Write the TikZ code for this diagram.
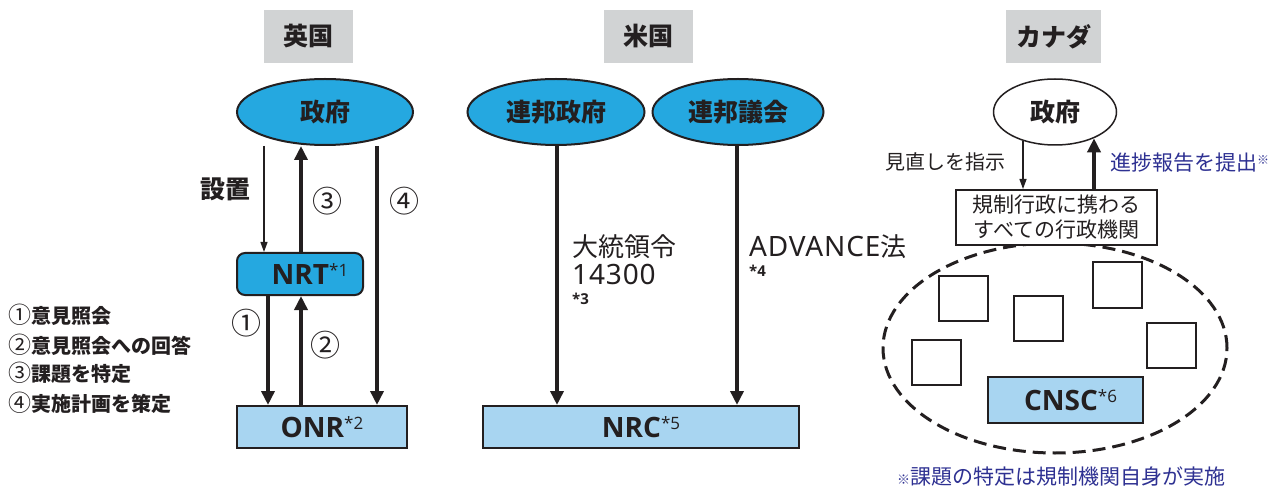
\documentclass[tikz,border=0pt]{standalone}
\usepackage{fontspec}
\setmainfont{Noto Sans CJK JP}
\newfontfamily\lat{Noto Sans}[LetterSpace=3]
\newfontfamily\latn{Open Sans}
\usetikzlibrary{arrows.meta,shapes.geometric}
\definecolor{govblue}{HTML}{25A8E0}
\definecolor{lblue}{HTML}{A8D5F1}
\definecolor{hdrgray}{HTML}{D1D3D4}
\definecolor{navy}{HTML}{2E3192}
\definecolor{ink}{HTML}{231F20}
\newcommand\fnmark[1]{\raisebox{8pt}{\latn\mdseries\fontsize{17}{17}\selectfont *#1}}
\tikzset{
  hdr/.style={fill=hdrgray, minimum width=89pt, minimum height=53pt, inner sep=0pt,
    font=\fontsize{25}{25}\selectfont\bfseries, text=ink},
  govell/.style={ellipse, draw=ink, line width=2pt, fill=govblue, inner sep=0pt,
    minimum height=66pt, font=\fontsize{25}{25}\selectfont\bfseries, text=ink},
  regbox/.style={draw=ink, line width=2pt, fill=lblue, inner sep=0pt,
    minimum height=42pt, font=\latn\bfseries\fontsize{28}{28}\selectfont, text=ink},
  sqbox/.style={draw=ink, line width=2pt, fill=white, minimum width=49pt, minimum height=45pt, inner sep=0pt},
  thickarr/.style={draw=ink, line width=3.5pt, -{Triangle[length=14pt,width=13pt]}},
  thinarr/.style={draw=ink, line width=1.2pt, -{Triangle[length=10pt,width=7pt]}},
  circnum/.style={font=\fontsize{30}{30}\selectfont, text=ink, inner sep=0pt},
  legend/.style={anchor=west, font=\fontsize{20}{20}\selectfont\bfseries, text=ink, inner sep=0pt},
  plain/.style={font=\fontsize{20}{20}\selectfont, text=ink, inner sep=0pt},
  bigplain/.style={anchor=west, font=\fontsize{26}{26}\selectfont, text=ink, inner sep=0pt},
  smallnote/.style={anchor=west, font=\latn\bfseries\fontsize{15}{15}\selectfont, text=ink, inner sep=0pt},
}
\begin{document}
\begin{tikzpicture}[x=1pt,y=-1pt]
\useasboundingbox (0,0) rectangle (1268,486);

% headers
\node[hdr] (hUK) at (308.5,36.5) {英国};
\node[hdr] (hUS) at (648.5,36.5) {米国};
\node[hdr, minimum width=95pt] (hCA) at (1053.5,36.5) {カナダ};

% ---------------- UK ----------------
\node[govell, minimum width=176pt] (ukgov) at (325,112) {政府};
\node[regbox, fill=govblue, rounded corners=8pt, minimum width=126pt] (nrt) at (300,274) {\hspace*{20pt}NRT\fnmark{1}};
\node[regbox, minimum width=170pt] (onr) at (322,427) {ONR\fnmark{2}};

\coordinate (xset) at (264,0);
\coordinate (xthree) at (301,0);
\coordinate (xfour) at (377,0);
\coordinate (xone) at (268,0);

\draw[thinarr] (ukgov.south -| xset) -- (nrt.north -| xset);
\draw[thickarr] (nrt.north -| xthree) -- (ukgov.south -| xthree);
\draw[thickarr] (ukgov.south -| xfour) -- (onr.north -| xfour);
\draw[thickarr] (nrt.south -| xone) -- (onr.north -| xone);
\draw[thickarr] (onr.north -| xthree) -- (nrt.south -| xthree);

\node[font=\fontsize{25}{25}\selectfont\bfseries, text=ink, inner sep=0pt] (setchi) at (225,189) {設置};
\node[circnum] (c3) at (327,201) {③};
\node[circnum] (c4) at (404,201) {④};
\node[circnum] (c1) at (246,323) {①};
\node[circnum] (c2) at (325,345) {②};

\node[legend] (l1) at (8,315) {{\mdseries\fontsize{23}{23}\selectfont ①}意見照会};
\node[legend] (l2) at (8,345) {{\mdseries\fontsize{23}{23}\selectfont ②}意見照会への回答};
\node[legend] (l3) at (8,373) {{\mdseries\fontsize{23}{23}\selectfont ③}課題を特定};
\node[legend] (l4) at (8,403) {{\mdseries\fontsize{23}{23}\selectfont ④}実施計画を策定};

% ---------------- US ----------------
\node[govell, minimum width=177pt] (usgov) at (556,112) {連邦政府};
\node[govell, minimum width=171pt] (uscong) at (738,112) {連邦議会};
\node[regbox, minimum width=316pt] (nrc) at (641,427) {NRC\fnmark{5}};

\coordinate (xeo) at (557,0);
\coordinate (xadv) at (737,0);
\draw[thickarr] (usgov.south -| xeo) -- (nrc.north -| xeo);
\draw[thickarr] (uscong.south -| xadv) -- (nrc.north -| xadv);

\node[bigplain] (eo1) at (572,247) {大統領令};
\node[bigplain, font=\lat\fontsize{28}{28}\selectfont] (eo2) at (572,274) {14300};
\node[smallnote] (eo3) at (572,299) {*3};
\node[bigplain] (adv1) at (749,247) {{\lat\fontsize{28}{28}\selectfont ADVANCE}法};
\node[smallnote] (adv2) at (749,271) {*4};

% ---------------- Canada ----------------
\node[ellipse, draw=ink, line width=1.5pt, fill=white, minimum width=123pt, minimum height=66pt, inner sep=0pt,
  font=\fontsize{25}{25}\selectfont\bfseries, text=ink] (cagov) at (1055,112) {政府};
\node[ellipse, draw=ink, line width=3pt, dash pattern=on 13pt off 7pt, minimum width=344pt, minimum height=210pt, inner sep=0pt] (caell) at (1055,348) {};
\node[draw=ink, line width=2pt, fill=white, minimum width=201pt, minimum height=55pt, inner sep=0pt, align=center,
  font=\fontsize{21}{25}\selectfont, text=ink] (allag) at (1056.5,217.5) {規制行政に携わる\\すべての行政機関};

\node[sqbox] (s1) at (963.5,298.5) {};
\node[sqbox] (s2) at (1038.5,318) {};
\node[sqbox] (s3) at (1117.5,285) {};
\node[sqbox] (s4) at (936.5,362.5) {};
\node[sqbox] (s5) at (1171.5,345) {};
\node[regbox, minimum width=155pt, minimum height=46pt] (cnsc) at (1065.5,400) {\hspace*{10pt}CNSC\fnmark{6}};

\coordinate (xrev) at (1023,0);
\coordinate (xrep) at (1094,0);
\draw[thinarr] (cagov.221.8 -| xrev) -- (allag.north -| xrev);
\draw[thickarr] (allag.north -| xrep) -- (cagov.326.8 -| xrep);

\node[plain] (revlab) at (945,162) {見直しを指示};
\node[plain, anchor=west, text=navy, font=\fontsize{21}{21}\selectfont] (replab) at (1110,163) {進捗報告を提出\raisebox{6pt}{\fontsize{12}{12}\selectfont ※}};
\node[plain, text=navy, font=\fontsize{21}{21}\selectfont] (foot) at (1061,477) {{\fontsize{13}{13}\selectfont ※}課題の特定は規制機関自身が実施};
\end{tikzpicture}
\end{document}
